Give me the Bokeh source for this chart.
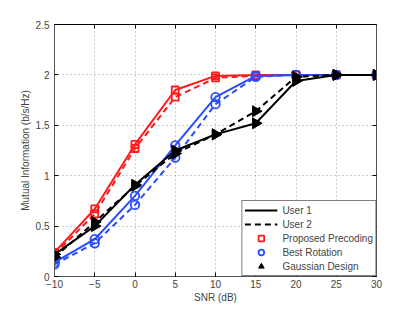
import math
from bokeh.plotting import figure
from bokeh.models import (LinearAxis, Legend, LegendItem, FixedTicker, Range1d,
                          CustomJSTickFormatter)
from bokeh.embed import file_html
from bokeh.resources import INLINE

snr = [-10, -5, 0, 5, 10, 15, 20, 25, 30]

prop_u1 = [0.24, 0.67, 1.31, 1.85, 1.99, 2.00, 2.00, 2.00, 2.00]
prop_u2 = [0.22, 0.62, 1.27, 1.78, 1.97, 1.99, 2.00, 2.00, 2.00]
rot_u1 = [0.14, 0.37, 0.80, 1.30, 1.78, 1.99, 2.00, 2.00, 2.00]
rot_u2 = [0.12, 0.33, 0.71, 1.18, 1.71, 1.98, 2.00, 2.00, 2.00]
gau_u1 = [0.22, 0.50, 0.91, 1.25, 1.41, 1.52, 1.94, 2.00, 2.00]
gau_u2 = [0.19, 0.54, 0.90, 1.22, 1.41, 1.64, 1.98, 2.00, 2.00]

x_ticks = [-10, -5, 0, 5, 10, 15, 20, 25, 30]
y_ticks = [0, 0.5, 1, 1.5, 2, 2.5]

RED = "#ff1a1a"
BLUE = "#2a4cff"
BLACK = "#000000"
FONT = "Liberation Sans"

W, H = 407, 305
BL, BR, BT, BB = 54, 31, 24, 28

p = figure(width=W, height=H, output_backend="svg", toolbar_location=None,
           x_range=Range1d(-10, 30), y_range=Range1d(0, 2.5),
           min_border_left=BL, min_border_right=BR, min_border_top=BT, min_border_bottom=BB)
p.background_fill_color = "white"
p.border_fill_color = "white"
p.outline_line_color = BLACK
p.outline_line_width = 1

for ax in p.xaxis + p.yaxis:
    ax.major_tick_in = 4
    ax.major_tick_out = 0
    ax.minor_tick_in = 0
    ax.minor_tick_out = 0
    ax.major_label_text_font = FONT
    ax.major_label_text_font_size = "10px"
    ax.axis_label_text_font = FONT
    ax.axis_label_text_font_size = "10px"
    ax.axis_label_text_font_style = "normal"
    ax.axis_line_color = "#555555"
    ax.major_tick_line_color = BLACK

p.xaxis.ticker = FixedTicker(ticks=x_ticks)
p.yaxis.ticker = FixedTicker(ticks=y_ticks)
p.xaxis.major_label_overrides = {t: (str(t).replace("-", "\u2212")) for t in x_ticks}
p.yaxis.major_label_overrides = {0: "0", 0.5: "0.5", 1: "1", 1.5: "1.5", 2: "2", 2.5: "2.5"}
p.xaxis.axis_label = "SNR (dB)"
p.yaxis.axis_label = "Mutual Information (b/s/Hz)"
p.xaxis.major_label_standoff = 3
p.xaxis.axis_label_standoff = 1
p.yaxis.major_label_standoff = 5
p.yaxis.axis_label_standoff = 2

for loc, tk in (("above", x_ticks), ("right", y_ticks)):
    ax = LinearAxis(ticker=FixedTicker(ticks=tk),
                    formatter=CustomJSTickFormatter(code="return '';"))
    ax.major_tick_in = 4
    ax.major_tick_out = 0
    ax.minor_tick_in = 0
    ax.minor_tick_out = 0
    ax.major_label_standoff = 0
    ax.axis_line_color = "#555555" if loc == "right" else BLACK
    p.add_layout(ax, loc)

p.xgrid.ticker = FixedTicker(ticks=x_ticks)
p.ygrid.ticker = FixedTicker(ticks=y_ticks)
for g in (p.xgrid[0], p.ygrid[0]):
    g.grid_line_color = "#9a9a9a"
    g.grid_line_dash = "1 3"
    g.grid_line_width = 1

LW = 2
series = [
    (prop_u1, RED, "solid", "square"),
    (prop_u2, RED, "dashed", "square"),
    (rot_u1, BLUE, "solid", "circle"),
    (rot_u2, BLUE, "dashed", "circle"),
    (gau_u1, BLACK, "solid", "triangle"),
    (gau_u2, BLACK, "dashed", "triangle"),
]
lines = []
marks = []
for ys, col, dash, mk in series:
    lines.append(p.line(snr, ys, line_color=col, line_width=LW,
                        line_dash=("6 4" if dash == "dashed" else "solid")))
    if mk == "triangle":
        marks.append(p.scatter(snr, ys, marker="triangle", size=11, angle=-math.pi / 2,
                               line_color=col, fill_color=col, line_width=1))
    elif mk == "square":
        marks.append(p.scatter(snr, ys, marker="square", size=7, line_color=col,
                               fill_color=None, line_width=1.8))
    else:
        marks.append(p.scatter(snr, ys, marker="circle", size=8.5, line_color=col,
                               fill_color=None, line_width=1.8))

legend = Legend(items=[
    LegendItem(label="User 1", renderers=[lines[4]]),
    LegendItem(label="User 2", renderers=[lines[5]]),
    LegendItem(label="Proposed Precoding", renderers=[marks[0]]),
    LegendItem(label="Best Rotation", renderers=[marks[2]]),
    LegendItem(label="Gaussian Design", renderers=[marks[4]]),
], location="bottom_right")
legend.margin = 0
legend.padding = 2
legend.spacing = 0
legend.label_height = 14
legend.glyph_height = 14
legend.glyph_width = 33
legend.label_standoff = 5
legend.label_text_font = FONT
legend.label_text_font_size = "10px"
legend.border_line_color = BLACK
legend.border_line_width = 1
legend.background_fill_alpha = 1
p.add_layout(legend)

open("out.html", "w").write(file_html(p, INLINE))
